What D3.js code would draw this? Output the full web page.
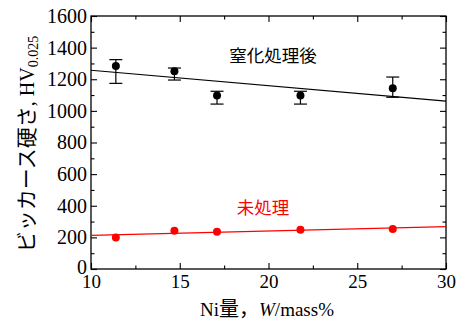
<!DOCTYPE html>
<html><head><meta charset="utf-8">
<script src="https://cdn.jsdelivr.net/npm/d3@7"></script>
<style>body{margin:0;background:#fff}</style>
</head><body>
<svg id="c" width="462" height="326"></svg>
<script>
const niContent = [11.4, 14.7, 17.1, 21.8, 27.0];
const nitrided = [1284, 1250, 1098, 1098, 1143];
const nitridedErrLow = [1174, 1195, 1043, 1043, 1086];
const nitridedErrHigh = [1324, 1271, 1124, 1124, 1214];
const untreated = [200, 242, 236, 249, 253];
const nitridedFit = [[10, 1257], [30, 1062]];
const untreatedFit = [[10, 213], [30, 268]];
const xTicks = [10, 15, 20, 25, 30];
const yTicks = [0, 200, 400, 600, 800, 1000, 1200, 1400, 1600];

const svg = d3.select("#c");
const L = 91, R = 446, T = 16, B = 269;
const x = d3.scaleLinear().domain([10, 30]).range([L, R]);
const y = d3.scaleLinear().domain([0, 1600]).range([B, T]);
const serif = "'Liberation Serif','Times New Roman',serif";
const cjk = "'Noto Sans CJK JP','Noto Sans',sans-serif";

// frame
svg.append("rect").attr("x", L).attr("y", T).attr("width", R - L).attr("height", B - T)
  .attr("fill", "none").attr("stroke", "#000").attr("stroke-width", 1.3);

// axes with inward ticks
const major = 6, minor = 3.5;
const xMinor = d3.range(12.5, 30, 5);
const yMinor = d3.range(100, 1600, 200);
function ticks(g) { g.select(".domain").remove(); g.selectAll("line").attr("stroke","#000").attr("stroke-width",1.1); }
svg.append("g").attr("transform", `translate(0,${B})`)
  .call(d3.axisBottom(x).tickValues(xTicks).tickSize(-major).tickPadding(6).tickFormat(d3.format("d")))
  .call(ticks).selectAll("text").attr("font-family", serif).attr("font-size", 19).attr("fill","#000");
svg.append("g").attr("transform", `translate(0,${B})`)
  .call(d3.axisBottom(x).tickValues(xMinor).tickSize(-minor).tickFormat("")).call(ticks);
svg.append("g").attr("transform", `translate(0,${T})`)
  .call(d3.axisTop(x).tickValues(xTicks).tickSize(-major).tickFormat("")).call(ticks);
svg.append("g").attr("transform", `translate(0,${T})`)
  .call(d3.axisTop(x).tickValues(xMinor).tickSize(-minor).tickFormat("")).call(ticks);
svg.append("g").attr("transform", `translate(${L},0)`)
  .call(d3.axisLeft(y).tickValues(yTicks).tickSize(-major).tickPadding(4).tickFormat(d3.format("d")))
  .call(ticks).selectAll("text").attr("font-family", serif).attr("font-size", 20).attr("fill","#000").attr("dy", d => d === 0 ? "0.2em" : "0.32em");
svg.append("g").attr("transform", `translate(${L},0)`)
  .call(d3.axisLeft(y).tickValues(yMinor).tickSize(-minor).tickFormat("")).call(ticks);
svg.append("g").attr("transform", `translate(${R},0)`)
  .call(d3.axisRight(y).tickValues(yTicks).tickSize(-major).tickFormat("")).call(ticks);
svg.append("g").attr("transform", `translate(${R},0)`)
  .call(d3.axisRight(y).tickValues(yMinor).tickSize(-minor).tickFormat("")).call(ticks);

// fit lines
const line = d3.line().x(d => x(d[0])).y(d => y(d[1]));
svg.append("path").attr("d", line(nitridedFit)).attr("stroke", "#000").attr("stroke-width", 1.2).attr("fill", "none");
svg.append("path").attr("d", line(untreatedFit)).attr("stroke", "#ff0000").attr("stroke-width", 1.2).attr("fill", "none");

// error bars
const cap = 6.5;
niContent.forEach((n, i) => {
  const g = svg.append("g").attr("stroke", "#000").attr("stroke-width", 1.2);
  g.append("line").attr("x1", x(n)).attr("x2", x(n)).attr("y1", y(nitridedErrHigh[i])).attr("y2", y(nitridedErrLow[i]));
  g.append("line").attr("x1", x(n) - cap).attr("x2", x(n) + cap).attr("y1", y(nitridedErrHigh[i])).attr("y2", y(nitridedErrHigh[i]));
  g.append("line").attr("x1", x(n) - cap).attr("x2", x(n) + cap).attr("y1", y(nitridedErrLow[i])).attr("y2", y(nitridedErrLow[i]));
});

svg.selectAll(".pb").data(niContent).join("circle").attr("cx", d => x(d)).attr("cy", (d, i) => y(nitrided[i])).attr("r", 4).attr("fill", "#000");
svg.selectAll(".pr").data(niContent).join("circle").attr("cx", d => x(d)).attr("cy", (d, i) => y(untreated[i])).attr("r", 4).attr("fill", "#ff0000");

// series labels
svg.append("text").attr("x", 273).attr("y", 61.5).attr("text-anchor", "middle").attr("font-family", cjk).attr("font-size", 17.5).attr("fill", "#000").text("窒化処理後");
svg.append("text").attr("x", 263).attr("y", 214).attr("text-anchor", "middle").attr("font-family", cjk).attr("font-size", 17.5).attr("fill", "#ff0000").text("未処理");

// x title
const xt = svg.append("text").attr("x", 267).attr("y", 316).attr("text-anchor", "middle").attr("font-size", 19).attr("fill", "#000");
xt.append("tspan").attr("font-family", serif).text("Ni");
xt.append("tspan").attr("font-family", cjk).attr("font-size", 20).text("量，");
xt.append("tspan").attr("font-family", serif).attr("font-style", "italic").text("W");
xt.append("tspan").attr("font-family", serif).text("/mass%");

// y title
const yt = svg.append("text").attr("transform", "translate(34,144) rotate(-90)").attr("text-anchor", "middle").attr("font-size", 20).attr("fill", "#000");
yt.append("tspan").attr("font-family", cjk).attr("font-size", 21).text("ビッカース硬さ");
yt.append("tspan").attr("font-family", serif).text(", HV");
yt.append("tspan").attr("font-family", serif).attr("font-size", 14).attr("dy", 4).text("0.025");
</script>
</body></html>
